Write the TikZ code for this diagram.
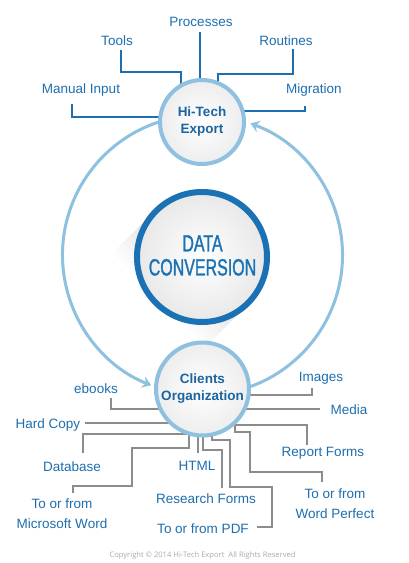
\documentclass[tikz,border=0pt]{standalone}
\usepackage{fontspec}
\setmainfont{Liberation Sans}
\newfontfamily\copyfont{Open Sans}
\newfontfamily\condfont[FakeStretch=0.68,FakeBold=1.2]{Liberation Sans}
\usetikzlibrary{arrows.meta,calc,backgrounds}
\definecolor{lblue}{HTML}{1E6FAF}
\definecolor{nodeblue}{HTML}{1B65A0}
\definecolor{ringblue}{HTML}{8EC0DF}
\definecolor{darkring}{HTML}{1A72B4}
\definecolor{glines}{HTML}{8C8C8C}
\definecolor{cgray}{HTML}{ABABAB}
\tikzset{
  lbl/.style={font=\fontsize{13.5}{20}\selectfont, text=lblue, inner sep=2pt, anchor=base},
  lbltwo/.style={font=\fontsize{13.5}{20}\selectfont, text=lblue, inner sep=0pt, align=center, anchor=center},
  topline/.style={draw=lblue, line width=1.8pt},
  botline/.style={draw=glines, line width=1.8pt},
  ring/.style={draw=ringblue, line width=3pt},
  smallcirc/.style={circle, draw=ringblue, line width=4pt, inner sep=0pt,
     inner color=white, outer color=black!7, text=nodeblue, align=center,
     font=\bfseries\fontsize{13.5}{17}\selectfont},
  bigcirc/.style={circle, draw=darkring, line width=6pt, inner sep=0pt, minimum size=130pt,
     inner color=white, outer color=black!9},
  ringarrow/.style={-{Stealth[length=9pt,width=12pt,inset=3.5pt]}},
}
\begin{document}
\begin{tikzpicture}[x=1pt,y=-1pt]
\useasboundingbox (0,0) rectangle (409,563);
% ring centre
\coordinate (ringc) at (202.5,255);
\coordinate (dc) at (202,257);
% long shadow of the centre circle, fading towards the lower left
\foreach \i in {0,...,11} {
  \pgfmathsetmacro\op{0.13*(1-\i/12)}
  \fill[black, fill opacity=\op]
    ($(dc)+(45:66)+(135:\i*5)$) -- ($(dc)+(225:66)+(135:\i*5)$) --
    ($(dc)+(225:66)+(135:\i*5+5)$) -- ($(dc)+(45:66)+(135:\i*5+5)$) -- cycle;
}
% ring arcs
\draw[ring,ringarrow] ($(ringc)+(260:140)$) arc[start angle=260, end angle=111.5, radius=140];
\draw[ring,ringarrow] ($(ringc)+(80:140)$) arc[start angle=80, end angle=-70, radius=140];

% labels
\node[lbl] (proc) at (201,26.7) {Processes};
\node[lbl] (tools) at (117,45.7) {Tools};
\node[lbl] (routines) at (286,45.7) {Routines};
\node[lbl] (manual) at (81,93.3) {Manual Input};
\node[lbl] (migration) at (314,93.3) {Migration};
\node[lbl] (images) at (321,381) {Images};
\node[lbl] (ebooks) at (96,393.3) {ebooks};
\node[lbl] (media) at (349,414.3) {Media};
\node[lbl] (hardcopy) at (48,428.7) {Hard Copy};
\node[lbl] (database) at (72,471.3) {Database};
\node[lbl] (report) at (323,456) {Report Forms};
\node[lbl] (html) at (197,470.3) {HTML};
\node[lbl] (research) at (206,503) {Research Forms};
\node[lbl] (pdf) at (203,533.3) {To or from PDF};
\node[lbltwo] (msword) at (62,513.3) {To or from\\Microsoft Word};
\node[lbltwo] (wperfect) at (335,503.2) {To or from\\Word Perfect};
\node[font=\copyfont\fontsize{7.6}{9}\selectfont, text=cgray, anchor=base, inner sep=0pt] (copy) at (202.5,557.5)
  {Copyright \textcopyright{} 2014 Hi-Tech Export\ \ All Rights Reserved};

% circles
\node[smallcirc, minimum size=84pt] (top) at (202,122) {Hi-Tech\\Export};
\node[smallcirc, minimum size=93pt] (bot) at (202.5,389) {Clients\\Organization};
\node[bigcirc] (data) at (dc) {};
\node[text=darkring, font=\condfont\fontsize{23.5}{24}\selectfont, align=center, inner sep=0pt] (datatxt) at (202.5,255.5)
  {DATA\\CONVERSION};

\begin{scope}[on background layer]
\fill[white] (0,0) rectangle (409,563);
% top connectors
\draw[topline] ($(proc.base)+(-1,5.3)$) |- (top.center);
\draw[topline] ($(tools.base)+(4,4.3)$) |- (181,72) |- (top.center);
\draw[topline] ($(routines.base)+(7,3.3)$) |- (218,74) |- (top.center);
\draw[topline] ($(manual.base)+(-9,10.7)$) |- (190,117) -| (top.center);
\draw[topline] ($(migration.base)+(-9,12.7)$) |- (214,111) -| (top.center);
% bottom connectors
\draw[botline] ($(images.base)+(-9,7)$) |- (215,395) -| (bot.center);
\draw[botline] ($(ebooks.base)+(15,4.7)$) |- (190,409) -| (bot.center);
\draw[botline] ($(media.base)+(-29,-5.3)$) -- (215,409) -| (bot.center);
\draw[botline] ($(hardcopy.base)+(37,-5.7)$) -- (190,423) -| (bot.center);
\draw[botline] ($(database.base)+(11,-18.3)$) |- (200,434) -| (bot.center);
\draw[botline] ($(msword.center)+(11,-20.3)$) |- (132,486) |- (189,448) |- (bot.center);
\draw[botline] ($(html.base)+(1,-17.3)$) |- (bot.center);
\draw[botline] ($(research.base)+(16,-15)$) |- (203,450) |- (bot.center);
\draw[botline] ($(pdf.base)+(54,-6.3)$) -| (272,487) -| (230,440) -| (212,400) -| (bot.center);
\draw[botline] ($(report.base)+(-16,-11)$) |- (225,425) -| (bot.center);
\draw[botline] ($(wperfect.center)+(-13,-21.2)$) |- (250,472) |- (235,432) |- (bot.center);
\end{scope}
\end{tikzpicture}
\end{document}
